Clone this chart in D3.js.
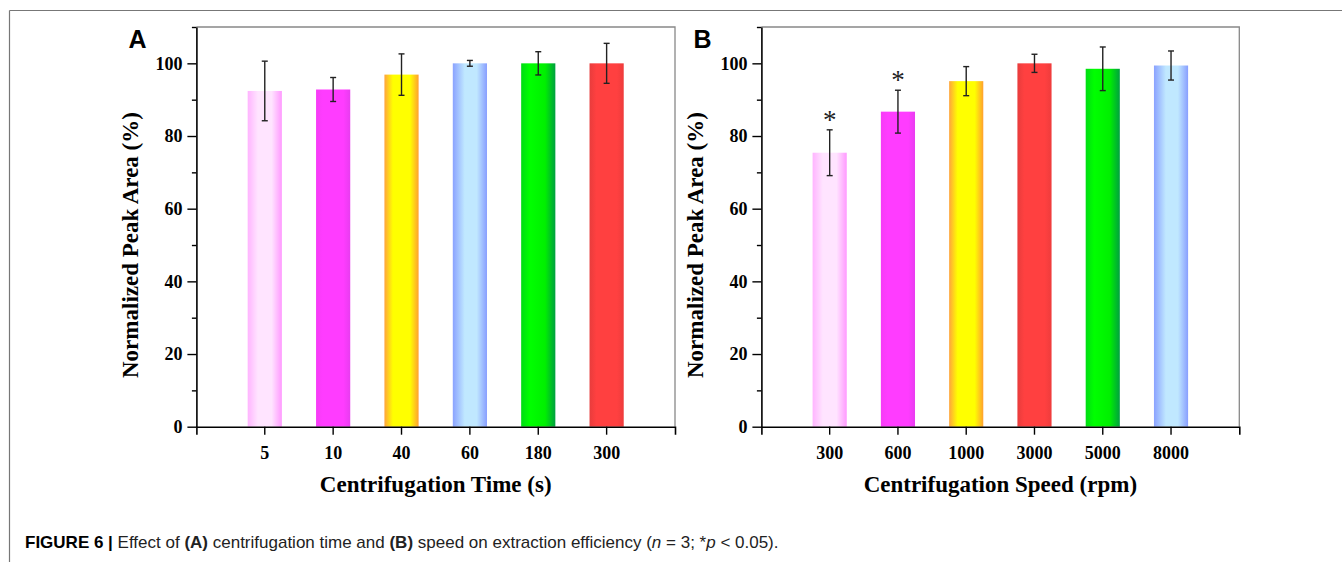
<!DOCTYPE html>
<html lang="en">
<head>
    <meta charset="UTF-8">
    <title>Figure 6</title>
    <script src="https://d3js.org/d3.v7.min.js"></script>
    <style>
        body { margin: 0; background: #fff; }
        svg { display: block; }
    </style>
</head>
<body>
    <div id="chart"></div>
    <script>
        // data
        const timeCats = ["5", "10", "40", "60", "180", "300"];
        const timeMeans = [92.4, 92.8, 96.9, 100, 100, 100];
        const timeErr = [8.2, 3.3, 5.7, 0.8, 3.2, 5.5];

        const speedCats = ["300", "600", "1000", "3000", "5000", "8000"];
        const speedMeans = [75.4, 86.7, 95.1, 100, 98.5, 99.4];
        const speedErr = [6.3, 5.9, 4.0, 2.5, 6.0, 4.0];
        const speedSig = [true, true, false, false, false, false];

        const yMajor = [0, 20, 40, 60, 80, 100];
        const yMinor = [10, 30, 50, 70, 90, 110];

        // bar gradients, left to right: [offset, colour]
        const gradients = {
            pink:    [[0, "#ffb4ff"], [0.3, "#ffe4ff"], [0.7, "#ffe4ff"], [1, "#ff99ff"]],
            magenta: [[0, "#f63cf6"], [0.2, "#ff3cff"], [0.8, "#ff3cff"], [1, "#e83cf0"]],
            yellow:  [[0, "#ffa43c"], [0.25, "#ffff00"], [0.75, "#ffff00"], [1, "#ffa030"]],
            blue:    [[0, "#8aa2ff"], [0.35, "#c0e8ff"], [0.7, "#c0e8ff"], [1, "#889eff"]],
            green:   [[0, "#00dc14"], [0.25, "#00ff00"], [0.7, "#00f000"], [1, "#00a040"]],
            red:     [[0, "#e83c3c"], [0.2, "#ff4040"], [0.8, "#ff4040"], [1, "#ee3c3c"]]
        };
        const timeColors = ["pink", "magenta", "yellow", "blue", "green", "red"];
        const speedColors = ["pink", "magenta", "yellow", "red", "green", "blue"];

        const width = 1342;
        const height = 562;
        const serif = "'Times New Roman', 'Liberation Serif', serif";
        const sans = "Arial, 'Liberation Sans', sans-serif";

        const svg = d3.select("#chart").append("svg")
            .attr("width", width)
            .attr("height", height);

        // gradients
        const defs = svg.append("defs");
        Object.entries(gradients).forEach(([name, stops]) => {
            const g = defs.append("linearGradient")
                .attr("id", "g-" + name)
                .attr("x1", "0%").attr("x2", "100%")
                .attr("y1", "0%").attr("y2", "0%");
            stops.forEach(s => {
                g.append("stop").attr("offset", s[0]).attr("stop-color", s[1]);
            });
        });

        // outer frame (top and left rules)
        svg.append("line")
            .attr("x1", 9.5).attr("x2", width)
            .attr("y1", 10.5).attr("y2", 10.5)
            .attr("stroke", "#777").attr("stroke-width", 1.2);
        svg.append("line")
            .attr("x1", 9.5).attr("x2", 9.5)
            .attr("y1", 10.5).attr("y2", height)
            .attr("stroke", "#777").attr("stroke-width", 1.2);

        const plotTop = 27;
        const plotBottom = 426.7;

        const y = d3.scaleLinear().domain([0, 110]).range([plotBottom, plotTop]);

        function drawPanel(opts) {
            const x = d3.scaleBand()
                .domain(opts.cats)
                .range([opts.left, opts.right])
                .paddingInner(0.5)
                .paddingOuter(0.75);
            const cx = i => x(opts.cats[i]) + x.bandwidth() / 2;

            const g = svg.append("g");

            // grey top / right frame
            g.append("path")
                .attr("d", `M${opts.left},${plotTop}H${opts.right}V${plotBottom}`)
                .attr("fill", "none")
                .attr("stroke", "#888")
                .attr("stroke-width", 1.3);

            // bars
            g.selectAll("rect.bar")
                .data(opts.means)
                .join("rect")
                .attr("class", "bar")
                .attr("x", (d, i) => x(opts.cats[i]))
                .attr("width", x.bandwidth())
                .attr("y", d => y(d))
                .attr("height", d => y(0) - y(d))
                .attr("fill", (d, i) => "url(#g-" + opts.colors[i] + ")");

            // error bars
            const eb = g.selectAll("g.err")
                .data(opts.means)
                .join("g")
                .attr("class", "err")
                .attr("stroke", "#222")
                .attr("stroke-width", 1.4);
            eb.append("line")
                .attr("x1", (d, i) => cx(i))
                .attr("x2", (d, i) => cx(i))
                .attr("y1", (d, i) => y(d + opts.err[i]))
                .attr("y2", (d, i) => y(d - opts.err[i]));
            [1, -1].forEach(s => {
                eb.append("line")
                    .attr("x1", (d, i) => cx(i) - 3)
                    .attr("x2", (d, i) => cx(i) + 3)
                    .attr("y1", (d, i) => y(d + s * opts.err[i]))
                    .attr("y2", (d, i) => y(d + s * opts.err[i]));
            });

            // significance marks
            if (opts.sig) {
                g.selectAll("text.sig")
                    .data(opts.means.map((d, i) => ({ d, i })).filter(o => opts.sig[o.i]))
                    .join("text")
                    .attr("class", "sig")
                    .attr("x", o => cx(o.i))
                    .attr("y", o => y(o.d + opts.err[o.i]) - 1)
                    .attr("text-anchor", "middle")
                    .attr("font-family", serif)
                    .attr("font-size", 27)
                    .attr("fill", "#222")
                    .text("*");
            }

            // x axis
            const xAxis = g.append("g")
                .attr("transform", `translate(0,${plotBottom})`)
                .call(d3.axisBottom(x).tickSize(8).tickSizeOuter(8).tickPadding(6));
            xAxis.select(".domain").attr("stroke", "#000").attr("stroke-width", 1.6);
            xAxis.selectAll(".tick line").attr("stroke", "#000").attr("stroke-width", 1.4);
            xAxis.selectAll("text")
                .attr("font-family", serif)
                .attr("font-weight", "bold")
                .attr("font-size", 18)
                .attr("fill", "#000")
                .attr("dy", "1.0em");

            // y axis: minor then major ticks
            const yMin = g.append("g")
                .attr("transform", `translate(${opts.left},0)`)
                .call(d3.axisLeft(y).tickValues(yMinor).tickSize(4.5).tickSizeOuter(0).tickFormat(""));
            yMin.select(".domain").remove();
            yMin.selectAll(".tick line").attr("stroke", "#000").attr("stroke-width", 1.4);

            const yAxis = g.append("g")
                .attr("transform", `translate(${opts.left},0)`)
                .call(d3.axisLeft(y).tickValues(yMajor).tickSize(9).tickSizeOuter(0).tickPadding(5));
            yAxis.select(".domain").attr("stroke", "#000").attr("stroke-width", 1.6);
            yAxis.selectAll(".tick line").attr("stroke", "#000").attr("stroke-width", 1.4);
            yAxis.selectAll("text")
                .attr("font-family", serif)
                .attr("font-weight", "bold")
                .attr("font-size", 18)
                .attr("fill", "#000");

            // axis titles
            g.append("text")
                .attr("x", (opts.left + opts.right) / 2)
                .attr("y", 492)
                .attr("text-anchor", "middle")
                .attr("font-family", serif)
                .attr("font-weight", "bold")
                .attr("font-size", 23)
                .text(opts.xTitle);

            g.append("text")
                .attr("transform", `translate(${opts.left - 58},${y(50)}) rotate(-90)`)
                .attr("text-anchor", "middle")
                .attr("font-family", serif)
                .attr("font-weight", "bold")
                .attr("font-size", 23)
                .text("Normalized Peak Area (%)");

            // panel letter
            g.append("text")
                .attr("x", opts.left - 68)
                .attr("y", 48)
                .attr("font-family", sans)
                .attr("font-weight", "bold")
                .attr("font-size", 25)
                .text(opts.letter);
        }

        drawPanel({
            letter: "A", left: 196.4, right: 675,
            cats: timeCats, means: timeMeans, err: timeErr, colors: timeColors,
            xTitle: "Centrifugation Time (s)"
        });

        drawPanel({
            letter: "B", left: 761.4, right: 1239.3,
            cats: speedCats, means: speedMeans, err: speedErr, colors: speedColors,
            sig: speedSig,
            xTitle: "Centrifugation Speed (rpm)"
        });

        // caption
        const cap = svg.append("text")
            .attr("x", 25)
            .attr("y", 548)
            .attr("font-family", sans)
            .attr("font-size", 17)
            .attr("fill", "#222");
        cap.append("tspan").attr("font-weight", "bold").attr("fill", "#000").text("FIGURE 6 | ");
        cap.append("tspan").text("Effect of ");
        cap.append("tspan").attr("font-weight", "bold").text("(A)");
        cap.append("tspan").text(" centrifugation time and ");
        cap.append("tspan").attr("font-weight", "bold").text("(B)");
        cap.append("tspan").text(" speed on extraction efficiency (");
        cap.append("tspan").attr("font-style", "italic").text("n");
        cap.append("tspan").text(" = 3; *");
        cap.append("tspan").attr("font-style", "italic").text("p");
        cap.append("tspan").text(" < 0.05).");
    </script>
</body>
</html>
